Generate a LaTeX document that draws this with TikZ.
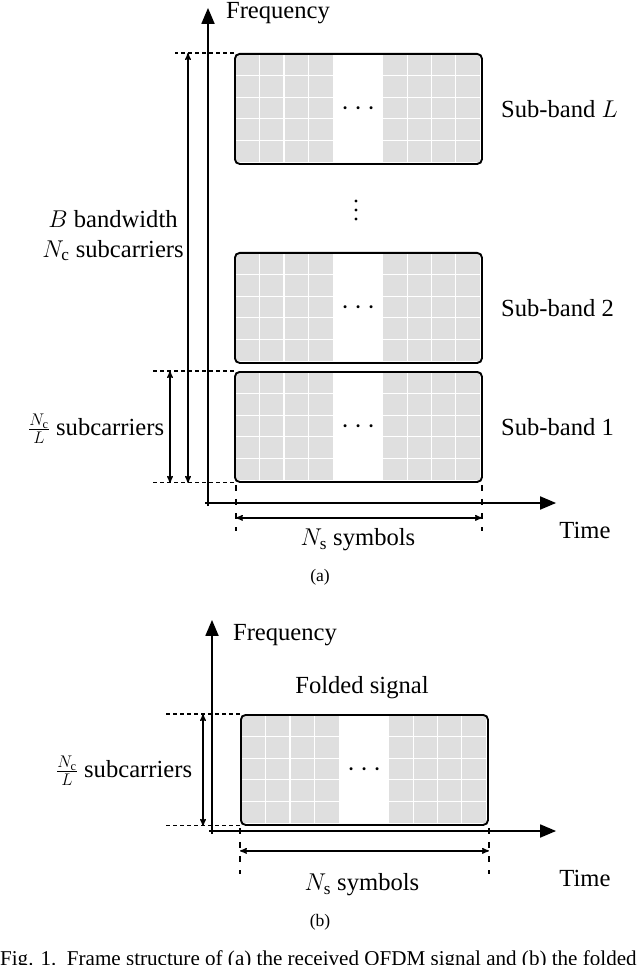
\documentclass[tikz,border=0pt]{standalone}
\usepackage{fontspec}
\setmainfont{Liberation Serif}
\usetikzlibrary{arrows,positioning,calc}
\newcommand\gridfill[2]{% #1 = x, #2 = y of the block's top left corner
  \fill[gray!25] (#1+1,#2+1) rectangle (#1+99,#2+109);
  \fill[gray!25] (#1+149,#2+1) rectangle (#1+246,#2+109);
  \foreach \i in {1,2,3} {
    \draw[white,line width=1pt] (#1+1+24.5*\i,#2+1) -- (#1+1+24.5*\i,#2+109);
    \draw[white,line width=1pt] (#1+149+24.25*\i,#2+1) -- (#1+149+24.25*\i,#2+109);
  }
  \foreach \j in {1,2,3,4} {
    \draw[white,line width=1pt] (#1+1,#2+1+21.6*\j) -- (#1+99,#2+1+21.6*\j);
    \draw[white,line width=1pt] (#1+149,#2+1+21.6*\j) -- (#1+246,#2+1+21.6*\j);
  }
}
\begin{document}
\begin{tikzpicture}[x=0.03cm,y=-0.03cm,>=stealth',
  every node/.style={font=\fontsize{21}{25}\selectfont},
  axis/.style={line width=2.2pt,->,>=triangle 45},
  block/.style={draw,line width=1.6pt,rounded corners=4pt,minimum width=7.41cm,minimum height=3.3cm,inner sep=0pt,anchor=north west},
  guide/.style={dashed,line width=0.9pt},
  tick/.style={dashed,line width=1.4pt,dash pattern=on 5pt off 7pt},
  dim/.style={<->,line width=1.1pt},
  dots/.style={font=\fontsize{26}{28}\selectfont\bfseries}]
\useasboundingbox (0,0) rectangle (640,965);

% (a) received signal
\foreach \y in {53,252,371} {\gridfill{234}{\y}}
\node[block,dots] (bandL) at (234,53) {$\cdots$};
\node[block,dots] (band2) at (234,252) {$\cdots$};
\node[block,dots] (band1) at (234,371) {$\cdots$};
\node[right=12pt of bandL.east] {Sub-band $L$};
\node[right=12pt of band2.east] {Sub-band 2};
\node[right=12pt of band1.east] {Sub-band 1};
\coordinate (vdots) at (356,210);
\foreach \d in {-9,0,9} \fill ($(vdots)+(0,\d)$) circle (1.6);

\coordinate (O) at (208,503);
\draw[axis] ($(O)+(0,3)$) -- (208,8) coordinate (ftop);
\draw[axis] ($(O)+(-3,0)$) -- (556,503) coordinate (tend);
\node (freq) at (278,13) {Frequency};
\node (time) at (585,530) {Time};

\draw[guide] (bandL.north west) -- ++(-59,0);
\draw[guide] (band1.north west) -- ++(-84,0);
\draw[guide] (band1.south west) -- ++(-84,0);
\draw[dim] (bandL.north west) ++(-46,0) -- ($(band1.south west)+(-46,0)$);
\draw[dim] (band1.north west) ++(-64,0) -- ($(band1.south west)+(-64,0)$);
\node[align=center] (bw) at (113,236) {$B$ bandwidth\\$N_{\mathrm{c}}$ subcarriers};
\node (sub1) at (96,429) {$\frac{N_{\mathrm{c}}}{L}$ subcarriers};

\draw[tick] ($(band1.south west)+(2,2)$) -- ++(0,46);
\draw[tick] ($(band1.south east)+(-1,2)$) -- ++(0,46);
\draw[dim] ($(band1.south west)+(2,35)$) -- ($(band1.south east)+(-1,35)$);
\node (ns) at (358,540) {$N_{\mathrm{s}}$ symbols};
\node at (320,577) {\fontsize{15}{18}\selectfont (a)};

% (b) folded signal
\gridfill{240}{714}
\node[block,dots] (fold) at (240,714) {$\cdots$};
\node (ftitle) at (362,688) {Folded signal};
\coordinate (O2) at (212,831);
\draw[axis] ($(O2)+(0,3)$) -- (212,620) coordinate (ftop2);
\draw[axis] ($(O2)+(-3,0)$) -- (556,831);
\node (freq2) at (285,635) {Frequency};
\node (time2) at (585,878) {Time};
\draw[guide] (fold.north west) -- ++(-75,0);
\draw[guide] (fold.south west) -- ++(-75,0);
\draw[dim] (fold.north west) ++(-37,0) -- ($(fold.south west)+(-37,0)$);
\node (sub2) at (124,771) {$\frac{N_{\mathrm{c}}}{L}$ subcarriers};
\draw[tick] ($(fold.south west)+(0,2)$) -- ++(0,46);
\draw[tick] ($(fold.south east)+(0,2)$) -- ++(0,46);
\draw[dim] ($(fold.south west)+(0,25)$) -- ($(fold.south east)+(0,25)$);
\node (ns2) at (362,885) {$N_{\mathrm{s}}$ symbols};
\node at (320,922) {\fontsize{15}{18}\selectfont (b)};
\node[anchor=west] at (-4,960) {\fontsize{18}{21}\selectfont Fig. 1.\ \ Frame structure of (a) the received OFDM signal and (b) the folded};
\end{tikzpicture}
\end{document}
